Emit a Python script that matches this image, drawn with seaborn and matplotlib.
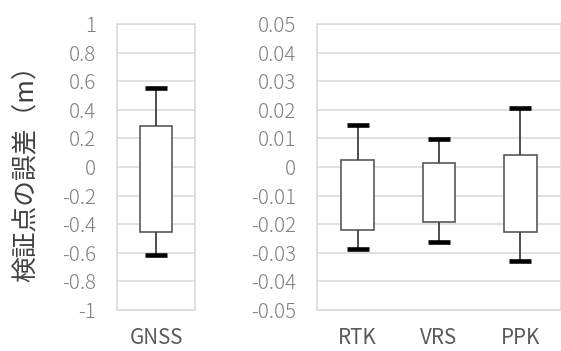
import numpy as np
import pandas as pd
import matplotlib
matplotlib.use("Agg")
import matplotlib.pyplot as plt
import seaborn as sns

# five-number summaries: min, q1, median, q3, max
gnss_cats = ["GNSS"]
gnss_stats = [-0.615, -0.455, -0.08, 0.287, 0.555]

rtk_cats = ["RTK", "VRS", "PPK"]
rtk_stats = [
    [-0.0287, -0.0222, -0.010, 0.0024, 0.0147],
    [-0.0262, -0.0193, -0.009, 0.0014, 0.0098],
    [-0.0330, -0.0226, -0.010, 0.0042, 0.0206],
]

left_ticks = [-1, -0.8, -0.6, -0.4, -0.2, 0, 0.2, 0.4, 0.6, 0.8, 1]
right_ticks = [-0.05, -0.04, -0.03, -0.02, -0.01, 0, 0.01, 0.02, 0.03, 0.04, 0.05]
ylabel = "検証点の誤差（m）"

sns.set_style("white")
plt.rcParams["font.family"] = ["Noto Sans CJK JP", "DejaVu Sans"]
plt.rcParams["axes.unicode_minus"] = False

gnss_df = pd.DataFrame({"cat": gnss_cats * 5, "err": gnss_stats})
rows = []
for c, s in zip(rtk_cats, rtk_stats):
    for v in s:
        rows.append((c, v))
rtk_df = pd.DataFrame(rows, columns=["cat", "err"])

fig = plt.figure(figsize=(5.61, 3.51), dpi=100)
W, H = 561, 351
ax1 = fig.add_axes([117 / W, 41 / H, 78 / W, 286 / H])
ax2 = fig.add_axes([317 / W, 41 / H, 244 / W, 286 / H])

box_kws = dict(
    whis=(0, 100),
    color="white",
    saturation=1,
    linecolor="#595959",
    linewidth=1.2,
    showfliers=False,
    boxprops=dict(edgecolor="#595959", facecolor="white", linewidth=1.2),
    whiskerprops=dict(color="#404040", linewidth=1.3),
    capprops=dict(color="black", linewidth=3.3, solid_capstyle="butt"),
    medianprops=dict(linewidth=0, color="white"),
)

sns.boxplot(data=gnss_df, x="cat", y="err", ax=ax1, width=0.41, capwidths=0.28, **box_kws)
sns.boxplot(data=rtk_df, x="cat", y="err", ax=ax2, width=0.4, capwidths=0.27, order=rtk_cats, **box_kws)

for ax, ticks, lim in [(ax1, left_ticks, 1), (ax2, right_ticks, 0.05)]:
    ax.set_ylim(-lim, lim)
    ax.set_yticks(ticks)
    ax.set_yticklabels([f"{t:g}" for t in ticks], fontweight="light")
    ax.yaxis.grid(True, color="#d9d9d9", linewidth=1.1)
    ax.set_axisbelow(True)
    for sp in ax.spines.values():
        sp.set_color("#d9d9d9")
        sp.set_linewidth(1.1)
    ax.tick_params(axis="y", length=0, pad=15, labelsize=14.8, labelcolor="#808080")
    ax.tick_params(axis="x", length=0, pad=12.5, labelsize=14.8, labelcolor="#595959")
    ax.set_xlabel("")
    ax.set_ylabel("")

ax1.set_ylabel(ylabel, fontsize=18.5, color="#404040", labelpad=16)

fig.savefig("out.png", dpi=100)
